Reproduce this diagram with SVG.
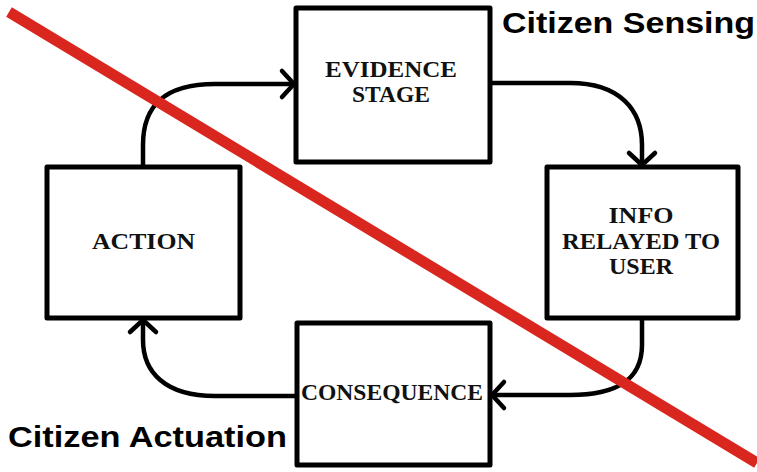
<svg xmlns="http://www.w3.org/2000/svg" width="757" height="472" viewBox="0 0 757 472">
<style>
.box{fill:#fff;stroke:#000;stroke-width:5;stroke-linejoin:round}
.lbl{font-family:"Liberation Serif","Times New Roman",serif;font-weight:bold;font-size:23px;fill:#111;text-anchor:middle}
.title{font-family:"Liberation Sans",Arial,sans-serif;font-weight:bold;font-size:29px;fill:#000}
.conn{fill:none;stroke:#000;stroke-width:4.5;stroke-linecap:round}
</style>
<defs>
<marker id="arr" markerUnits="userSpaceOnUse" viewBox="-16 -16 20 32" refX="0" refY="0" markerWidth="20" markerHeight="32" orient="auto" overflow="visible">
<path d="M-12,-13 L0,0 L-12,13" fill="none" stroke="#000" stroke-width="4.5" stroke-linecap="round" stroke-linejoin="round"/>
</marker>
</defs>
<rect width="757" height="472" fill="#fff"/>
<g id="connectors">
<path class="conn" d="M143,167 L143,145 C143,108 162,84 215,84 L294,84" marker-end="url(#arr)"/>
<path class="conn" d="M490,83 L570,83 C620,83 642,110 642,145 L642,165" marker-end="url(#arr)"/>
<path class="conn" d="M642,318 L642,345 C642,383 612,395 570,395 L492,395" marker-end="url(#arr)"/>
<path class="conn" d="M297,396 L215,396 C165,396 143,372 143,340 L143,320" marker-end="url(#arr)"/>
</g>
<g id="evidence">
<rect class="box" x="296" y="8" width="194" height="154"/>
<text class="lbl" x="391" y="77" textLength="132" lengthAdjust="spacingAndGlyphs">EVIDENCE</text>
<text class="lbl" x="391" y="102" textLength="78" lengthAdjust="spacingAndGlyphs">STAGE</text>
</g>
<g id="info">
<rect class="box" x="547" y="167" width="191" height="151"/>
<text class="lbl" x="641" y="223" textLength="65" lengthAdjust="spacingAndGlyphs">INFO</text>
<text class="lbl" x="641" y="249" textLength="158" lengthAdjust="spacingAndGlyphs">RELAYED TO</text>
<text class="lbl" x="641" y="274" textLength="64" lengthAdjust="spacingAndGlyphs">USER</text>
</g>
<g id="consequence">
<rect class="box" x="297" y="323" width="193" height="142"/>
<text class="lbl" x="392" y="400" textLength="182" lengthAdjust="spacingAndGlyphs">CONSEQUENCE</text>
</g>
<g id="action">
<rect class="box" x="47" y="167" width="193" height="151"/>
<text class="lbl" x="143.5" y="249" textLength="103" lengthAdjust="spacingAndGlyphs">ACTION</text>
</g>
<line x1="9" y1="12" x2="757" y2="463" stroke="#d9261f" stroke-width="11"/>
<text class="title" x="502" y="33" textLength="253" lengthAdjust="spacingAndGlyphs">Citizen Sensing</text>
<text class="title" x="8" y="447" textLength="279" lengthAdjust="spacingAndGlyphs">Citizen Actuation</text>
</svg>
